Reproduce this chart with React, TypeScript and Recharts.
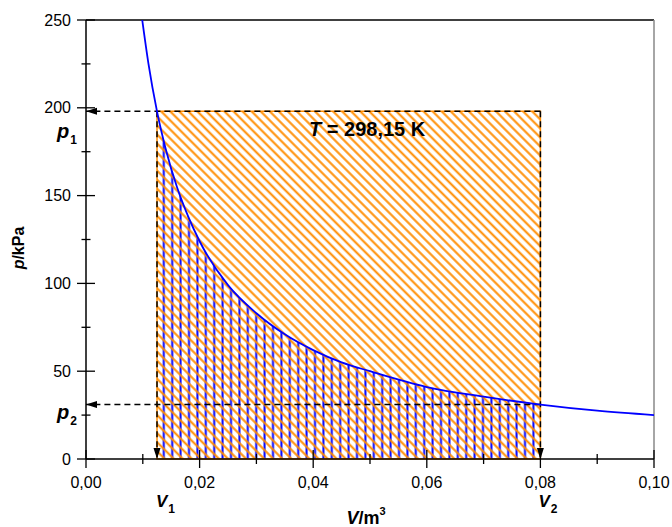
import React from 'react';
import {
  ComposedChart,
  Line,
  Area,
  XAxis,
  YAxis,
  ReferenceArea,
  ReferenceLine,
  ReferenceDot,
} from 'recharts';

// Isotherm: volume in m³, pressure in kPa
const volumes = [0.0099, 0.011, 0.0125, 0.014, 0.016, 0.018, 0.02, 0.025, 0.03, 0.035, 0.04, 0.045, 0.05, 0.06, 0.07, 0.08, 0.09, 0.1];
const pressures = [250, 225, 198, 177, 155, 138, 124, 99, 83, 71, 62, 55, 50, 41, 35.5, 31, 27.5, 25];

const V1 = 0.0125;
const V2 = 0.08;
const P1 = 198;
const P2 = 31;

const xTicks = [0, 0.01, 0.02, 0.03, 0.04, 0.05, 0.06, 0.07, 0.08, 0.09, 0.1];
const yTicks = [0, 25, 50, 75, 100, 125, 150, 175, 200, 225, 250];

const temperatureText = ' = 298,15 K';
const tempLabelV = 0.0495;
const tempLabelP = 188;

const ORANGE = '#ff8c00';
const BLUE = '#0000ff';
const FONT = '"Liberation Sans", Arial, sans-serif';

const data = volumes.map((v, i) => ({
  v,
  p: pressures[i],
  under: v >= V1 - 1e-9 && v <= V2 + 1e-9 ? pressures[i] : null,
}));

const fmtX = (v: number) => v.toFixed(2).replace('.', ',');

const XTick = (props: any) => {
  const { x, y, payload } = props;
  const v = payload.value as number;
  const major = Math.round(v * 100) % 2 === 0;
  const L = major ? 9 : 5;
  return (
    <g>
      <line x1={x} x2={x} y1={y - L} y2={y + L} stroke="#000" strokeWidth={1.3} />
      {major && (
        <text x={x} y={y + 29} textAnchor="middle" fontSize={16} fontFamily={FONT} fill="#000">
          {fmtX(v)}
        </text>
      )}
    </g>
  );
};

const YTick = (props: any) => {
  const { x, y, payload } = props;
  const v = payload.value as number;
  const major = v % 50 === 0;
  const L = major ? 9 : 4.5;
  return (
    <g>
      <line x1={x - L} x2={x + L} y1={y} y2={y} stroke="#000" strokeWidth={1.3} />
      {major && (
        <text x={x - 15} y={y} textAnchor="end" dominantBaseline="central" fontSize={16} fontFamily={FONT} fill="#000">
          {v}
        </text>
      )}
    </g>
  );
};

const arrowLine = (props: any) => (
  <line
    x1={props.x1}
    y1={props.y1}
    x2={props.x2}
    y2={props.y2}
    stroke="#000"
    strokeWidth={1.5}
    strokeDasharray="6 4"
    markerEnd="url(#arrowHead)"
  />
);

const sideLabel = (main: string, sub: string, dx: number, dy: number, size: number) => (props: any) => (
  <text
    x={props.cx + dx}
    y={props.cy + dy}
    fontFamily={FONT}
    fontWeight="bold"
    fill="#000"
  >
    <tspan fontStyle="italic" fontSize={size}>{main}</tspan>
    <tspan fontSize={12} dx={1} dy={6}>{sub}</tspan>
  </text>
);

const tempLabel = (props: any) => (
  <text
    x={props.cx}
    y={props.cy}
    textAnchor="middle"
    dominantBaseline="central"
    fontFamily={FONT}
    fontWeight="bold"
    fontSize={20}
    fill="#000"
  >
    <tspan fontStyle="italic">T</tspan>
    {temperatureText}
  </text>
);

const XLabel = (props: any) => {
  const vb = props.viewBox || { x: 86, y: 459, width: 568, height: 40 };
  return (
    <text
      x={vb.x + vb.width / 2 - 4}
      y={vb.y + 65}
      textAnchor="middle"
      fontFamily={FONT}
      fontWeight="bold"
      fontSize={18}
      fill="#000"
    >
      <tspan fontStyle="italic">V</tspan>
      <tspan>/m</tspan>
      <tspan fontSize={11} dy={-9}>3</tspan>
    </text>
  );
};

const YLabel = (props: any) => {
  const vb = props.viewBox || { x: 26, y: 20, width: 60, height: 439 };
  const cx = 18;
  const cy = vb.y + vb.height / 2 + 8.5;
  return (
    <text
      x={cx}
      y={cy}
      transform={`rotate(-90, ${cx}, ${cy})`}
      textAnchor="middle"
      dominantBaseline="central"
      fontFamily={FONT}
      fontWeight="bold"
      fontSize={16}
      fill="#000"
    >
      <tspan fontStyle="italic">p</tspan>
      <tspan>/kPa</tspan>
    </text>
  );
};

export default function App() {
  return (
    <div style={{ position: 'absolute', left: 0, top: 0, width: 672, height: 527 }}>
      <ComposedChart
        width={672}
        height={527}
        data={data}
        margin={{ top: 20, right: 18, left: 26, bottom: 28 }}
      >
        <defs>
          <pattern id="orangeHatch" patternUnits="userSpaceOnUse" width={6.4} height={6.4} patternTransform="rotate(-45)">
            <line x1={3.2} y1={0} x2={3.2} y2={6.4} stroke={ORANGE} strokeWidth={2} />
          </pattern>
          <pattern id="blueHatch" patternUnits="userSpaceOnUse" width={8.4} height={10}>
            <line x1={4.2} y1={0} x2={4.2} y2={10} stroke={BLUE} strokeWidth={2} />
          </pattern>
          <marker id="arrowHead" markerUnits="userSpaceOnUse" markerWidth={12} markerHeight={8} refX={11} refY={3.5} orient="auto">
            <path d="M0,0 L11,3.5 L0,7 z" fill="#000" />
          </marker>
        </defs>

        <XAxis
          dataKey="v"
          type="number"
          domain={[0, 0.1]}
          ticks={xTicks}
          interval={0}
          allowDataOverflow
          tickSize={0}
          tickMargin={0}
          tickLine={false}
          tick={(p: any) => <XTick {...p} />}
          axisLine={{ stroke: '#000', strokeWidth: 1.5 }}
          height={40}
          label={{ content: (p: any) => <XLabel {...p} /> }}
        />
        <YAxis
          type="number"
          domain={[0, 250]}
          ticks={yTicks}
          interval={0}
          allowDataOverflow
          tickSize={0}
          tickMargin={0}
          tickLine={false}
          tick={(p: any) => <YTick {...p} />}
          axisLine={{ stroke: '#000', strokeWidth: 1.5 }}
          width={60}
          label={{ content: (p: any) => <YLabel {...p} /> }}
        />

        <ReferenceLine y={250} stroke="#000" strokeWidth={1.5} />
        <ReferenceLine x={0.1} stroke="#888" strokeWidth={1.5} />

        <Area
          dataKey="under"
          type="monotone"
          baseValue={0}
          stroke="none"
          fill="url(#blueHatch)"
          fillOpacity={1}
          isAnimationActive={false}
          activeDot={false}
          dot={false}
        />

        <ReferenceArea
          x1={V1}
          x2={V2}
          y1={0}
          y2={P1}
          fill="url(#orangeHatch)"
          fillOpacity={1}
          stroke={ORANGE}
          strokeWidth={1.5}
        />

        <ReferenceLine segment={[{ x: V2, y: P1 }, { x: 0, y: P1 }]} shape={arrowLine} />
        <ReferenceLine segment={[{ x: V2, y: P2 }, { x: 0, y: P2 }]} shape={arrowLine} />
        <ReferenceLine segment={[{ x: V1, y: P1 }, { x: V1, y: 0 }]} shape={arrowLine} />
        <ReferenceLine segment={[{ x: V2, y: P1 }, { x: V2, y: 0 }]} shape={arrowLine} />

        <Line
          dataKey="p"
          type="monotone"
          stroke={BLUE}
          strokeWidth={1.8}
          dot={false}
          activeDot={false}
          isAnimationActive={false}
        />

        <ReferenceDot x={0} y={P1} r={0} shape={sideLabel('p', '1', -29, 27, 20)} />
        <ReferenceDot x={0} y={P2} r={0} shape={sideLabel('p', '2', -29, 14, 20)} />
        <ReferenceDot x={V1} y={0} r={0} shape={sideLabel('V', '1', -1, 48, 17)} />
        <ReferenceDot x={V2} y={0} r={0} shape={sideLabel('V', '2', -2, 48, 17)} />
        <ReferenceDot x={tempLabelV} y={tempLabelP} r={0} shape={tempLabel} />
      </ComposedChart>
    </div>
  );
}
